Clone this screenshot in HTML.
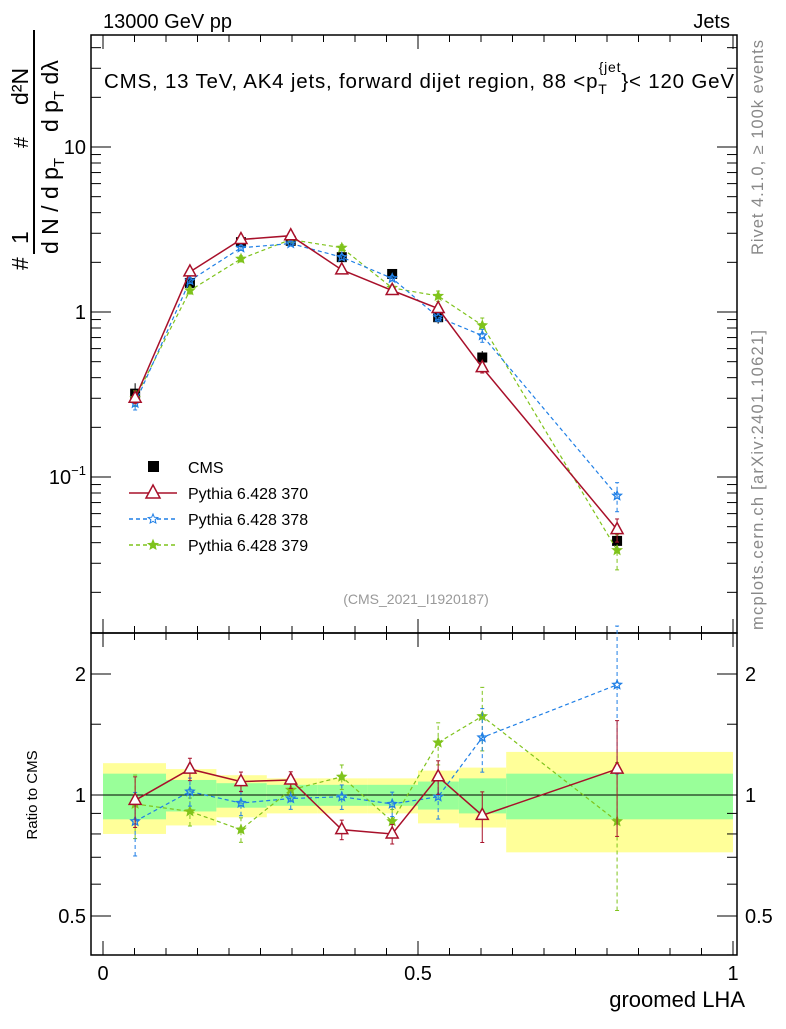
<!DOCTYPE html>
<html><head><meta charset="utf-8"><style>
body{margin:0;background:#fff;}
svg{font-family:"Liberation Sans",sans-serif;}
</style></head><body>
<svg id="c" width="786" height="1024" viewBox="0 0 786 1024" xmlns="http://www.w3.org/2000/svg">
<g id="bands"></g>
<g id="axes"></g>
<g id="series"></g>
<text x="103" y="28" font-size="20">13000 GeV pp</text>
<text x="730" y="28" font-size="20" text-anchor="end">Jets</text>
<text x="104" y="88" font-size="20.5" textLength="630">CMS, 13 TeV, AK4 jets, forward dijet region, 88 &lt;p<tspan font-size="14" dy="6">T</tspan><tspan font-size="14" dy="-22" dx="-9">{jet</tspan><tspan dy="16">}&lt; 120 GeV</tspan></text>
<text x="416" y="604" font-size="14" fill="#999" text-anchor="middle">(CMS_2021_I1920187)</text>
<text transform="translate(763,255) rotate(-90)" font-size="16.5" fill="#888" textLength="215">Rivet 4.1.0, ≥ 100k events</text>
<text transform="translate(763,630) rotate(-90)" font-size="16.5" fill="#888" textLength="300">mcplots.cern.ch [arXiv:2401.10621]</text>
<g transform="translate(28,270) rotate(-90)" font-size="23">
<text x="0" y="0">#</text><text x="26" y="0">1</text><line x1="16" y1="6" x2="240" y2="6" stroke="#000" stroke-width="2"/>
<text x="16" y="30">d N / d p<tspan font-size="15" dy="6">T</tspan></text>
<text x="122" y="0" font-size="20">#</text>
<text x="165" y="0">d²N</text><text x="138" y="30">d p<tspan font-size="15" dy="6">T</tspan><tspan dy="-6"> dλ</tspan></text>
</g>
<text transform="translate(37,795) rotate(-90)" font-size="15" text-anchor="middle">Ratio to CMS</text>
<text x="745" y="1007" font-size="22" text-anchor="end">groomed LHA</text>
<g id="legend"></g>
</svg>
<script>
const xs=[0.051,0.138,0.219,0.298,0.379,0.459,0.532,0.602,0.816];
const edges=[0,0.1,0.18,0.26,0.34,0.42,0.5,0.565,0.64,1.0];
const cms=[0.32,1.5,2.65,2.7,2.15,1.7,0.93,0.53,0.041];
const cmsErr=[0.05,0.12,0.2,0.2,0.15,0.12,0.08,0.05,0.006];
const p370=[0.30,1.75,2.75,2.9,1.8,1.35,1.05,0.46,0.048];
const p378=[0.28,1.55,2.45,2.6,2.15,1.6,0.93,0.72,0.077];
const p379=[0.30,1.35,2.1,2.75,2.45,1.4,1.25,0.83,0.036];
const r370=[0.97,1.16,1.08,1.09,0.82,0.80,1.11,0.89,1.16];
const r378=[0.86,1.02,0.955,0.98,0.99,0.95,0.99,1.39,1.88];
const r379=[0.95,0.91,0.82,1.03,1.11,0.86,1.35,1.57,0.86];
const rErr=[0.18,0.08,0.07,0.06,0.07,0.07,0.12,0.18,0.4];
const green=[0.13,0.09,0.07,0.06,0.06,0.06,0.08,0.1,0.13];
const yellow=[0.2,0.16,0.12,0.1,0.1,0.1,0.15,0.17,0.28];
const ns="http://www.w3.org/2000/svg";
const X=v=>103+630*v;
const Y=v=>312-165*Math.log10(v);
const R=v=>795-121*Math.log2(v);
function mk(t,a,p){const e=document.createElementNS(ns,t);for(const k in a)e.setAttribute(k,a[k]);(p||document.getElementById('c')).appendChild(e);return e;}
const ax=document.getElementById('axes'),bd=document.getElementById('bands'),sr=document.getElementById('series'),lg=document.getElementById('legend');
for(let i=0;i<xs.length;i++){
 const y=mk('rect',{x:X(edges[i]),y:R(1+yellow[i]),width:X(edges[i+1])-X(edges[i]),height:R(1-yellow[i])-R(1+yellow[i]),fill:'#ffff99'},bd);
 
 const g=mk('rect',{x:X(edges[i]),y:R(1+green[i]),width:X(edges[i+1])-X(edges[i]),height:R(1-green[i])-R(1+green[i]),fill:'#99ff99'},bd);
 
}
mk('line',{x1:91,x2:737,y1:795,y2:795,stroke:'#000'},ax);
mk('rect',{x:91,y:35,width:646,height:598,fill:'none',stroke:'#000','stroke-width':1.5},ax);
mk('rect',{x:91,y:633,width:646,height:322,fill:'none',stroke:'#000','stroke-width':1.5},ax);
for(let v=0;v<=1.0001;v+=0.05){const big=Math.abs(v*2-Math.round(v*2))<1e-6;const L=big?14:7;
 for(const [t,b] of [[35,633],[633,955]]){mk('line',{x1:X(v),x2:X(v),y1:b,y2:b-L,stroke:'#000'},ax);mk('line',{x1:X(v),x2:X(v),y1:t,y2:t+L,stroke:'#000'},ax);}}
[[0,'0'],[0.5,'0.5'],[1,'1']].forEach(([v,s])=>{const t=mk('text',{x:X(v),y:980,'font-size':20,'text-anchor':'middle'},ax);t.textContent=s;});
for(let d=-2;d<=1;d++)for(let m=1;m<10;m++){const v=m*Math.pow(10,d);const y=Y(v);if(y<35||y>633)continue;const L=m==1?20:10;
 mk('line',{x1:91,x2:91+L,y1:y,y2:y,stroke:'#000'},ax);mk('line',{x1:737,x2:737-L,y1:y,y2:y,stroke:'#000'},ax);}
[[10,'10'],[1,'1']].forEach(([v,s])=>{const t=mk('text',{x:86,y:Y(v)+7,'font-size':20,'text-anchor':'end'},ax);t.textContent=s;});
{const t=mk('text',{x:86,y:Y(0.1)+7,'font-size':20,'text-anchor':'end'},ax);t.innerHTML='10<tspan font-size="13" dy="-9">−1</tspan>';}
[0.4,0.5,0.6,0.7,0.8,0.9,1,1.5,2].forEach(v=>{const y=R(v);const L=(v==0.5||v==1||v==2)?20:10;
 mk('line',{x1:91,x2:91+L,y1:y,y2:y,stroke:'#000'},ax);mk('line',{x1:737,x2:737-L,y1:y,y2:y,stroke:'#000'},ax);});
[[0.5,'0.5'],[1,'1'],[2,'2']].forEach(([v,s])=>{for(const [x,a] of [[86,'end'],[745,'start']]){const t=mk('text',{x:x,y:R(v)+7,'font-size':20,'text-anchor':a},ax);t.textContent=s;}});
function star(cx,cy,r){let p=[];for(let i=0;i<10;i++){const a=-Math.PI/2+i*Math.PI/5,rr=i%2?r*0.45:r;p.push((cx+rr*Math.cos(a)).toFixed(1)+','+(cy+rr*Math.sin(a)).toFixed(1));}return p.join(' ');}
function drawSeries(vals,err,Yf,col,dash,marker,name){
 const g=mk('g',{},sr);
 mk('polyline',{points:xs.map((x,i)=>X(x)+','+Yf(vals[i])).join(' '),fill:'none',stroke:col,'stroke-width':marker=='tri'?1.5:1.2,'stroke-dasharray':dash},g);
 xs.forEach((x,i)=>{const cx=X(x),cy=Yf(vals[i]);const lo=Yf(vals[i]*(1-err[i])),hi=Yf(vals[i]*(1+err[i]));
  mk('line',{x1:cx,x2:cx,y1:lo,y2:hi,stroke:col,'stroke-dasharray':dash},g);
  mk('line',{x1:cx-2,x2:cx+2,y1:lo,y2:lo,stroke:col},g);mk('line',{x1:cx-2,x2:cx+2,y1:hi,y2:hi,stroke:col},g);
  let m;if(marker=='tri')m=mk('polygon',{points:`${cx},${cy-7} ${cx-6},${cy+4} ${cx+6},${cy+4}`,fill:'#fff',stroke:col,'stroke-width':1.5},g);
  else m=mk('polygon',{points:star(cx,cy,4.5),fill:marker=='starf'?col:'none',stroke:col,'stroke-width':1.3},g);
  });
}
{const g=mk('g',{},sr);
 xs.forEach((x,i)=>{const cx=X(x),cy=Y(cms[i]);mk('line',{x1:cx,x2:cx,y1:Y(cms[i]-cmsErr[i]),y2:Y(cms[i]+cmsErr[i]),stroke:'#000'},g);
 const r=mk('rect',{x:cx-5,y:cy-5,width:10,height:10,fill:'#000'},g);});}
drawSeries(p379,rErr.map(e=>e*0.6),Y,'#7fc31c','4,3','starf','pythia-379');
drawSeries(p378,rErr.map(e=>e*0.5),Y,'#1f7fe6','4,3','star','pythia-378');
drawSeries(p370,rErr.map(e=>e*0.4),Y,'#a8102a','','tri','pythia-370');
drawSeries(r379,rErr,R,'#7fc31c','4,3','starf','ratio-379');
drawSeries(r378,rErr,R,'#1f7fe6','4,3','star','ratio-378');
drawSeries(r370,rErr.map(e=>e*0.8),R,'#a8102a','','tri','ratio-370');
const L=[['CMS','#000','','sq'],['Pythia 6.428 370','#a8102a','','tri'],['Pythia 6.428 378','#1f7fe6','4,3','star'],['Pythia 6.428 379','#7fc31c','4,3','starf']];
L.forEach((e,i)=>{const y=467+26*i;const g=mk('g',{},lg);
 if(e[3]=='sq')mk('rect',{x:148,y:y-6,width:11,height:11,fill:'#000'},g);
 else{mk('line',{x1:129,x2:177,y1:y,y2:y,stroke:e[1],'stroke-width':1.5,'stroke-dasharray':e[2]},g);
  if(e[3]=='tri')mk('polygon',{points:`153,${y-8} 146,${y+5} 160,${y+5}`,fill:'#fff',stroke:e[1],'stroke-width':1.5},g);
  else mk('polygon',{points:star(153,y,5),fill:e[3]=='starf'?e[1]:'#fff',stroke:e[1]},g);}
 const t=mk('text',{x:188,y:y+6,'font-size':16},g);t.textContent=e[0];});
</script>
</body></html>
